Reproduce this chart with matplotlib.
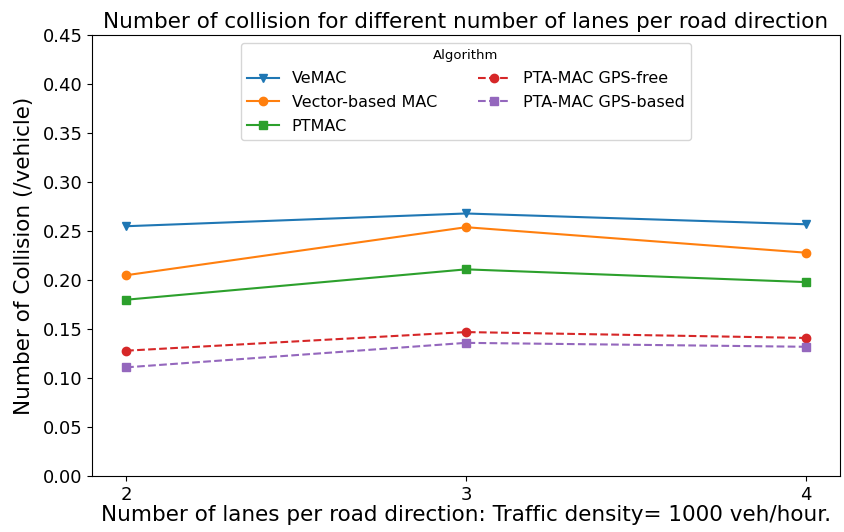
import matplotlib
matplotlib.use("Agg")
import matplotlib.pyplot as plt

lanes = [2, 3, 4]
vemac = [0.255, 0.268, 0.257]
vector_mac = [0.205, 0.254, 0.228]
ptmac = [0.180, 0.211, 0.198]
pta_gps_free = [0.128, 0.147, 0.141]
pta_gps_based = [0.111, 0.136, 0.132]


def main():
    fig, ax = plt.subplots(figsize=(8.45, 5.32), dpi=100)

    ax.plot(lanes, vemac, marker="v", color="tab:blue", label="VeMAC")
    ax.plot(lanes, vector_mac, marker="o", color="tab:orange", label="Vector-based MAC")
    ax.plot(lanes, ptmac, marker="s", color="tab:green", label="PTMAC")
    ax.plot(lanes, pta_gps_free, marker="o", linestyle="--", color="tab:red",
            label="PTA-MAC GPS-free")
    ax.plot(lanes, pta_gps_based, marker="s", linestyle="--", color="tab:purple",
            label="PTA-MAC GPS-based")

    ax.set_ylim(0, 0.45)
    ax.set_xticks(lanes)
    ax.tick_params(labelsize=13)
    ax.set_title("Number of collision for different number of lanes per road direction",
                 fontsize=15.5, pad=5)
    ax.set_xlabel("Number of lanes per road direction: Traffic density= 1000 veh/hour.",
                  fontsize=15.5, labelpad=1)
    ax.set_ylabel("Number of Collision (/vehicle)", fontsize=15.5, labelpad=6)

    ax.legend(title="Algorithm", ncol=2, loc="upper center",
              fontsize=11.5, title_fontsize=9.5, columnspacing=2.6,
              labelspacing=0.55)

    fig.subplots_adjust(left=0.109, right=0.994, top=0.934, bottom=0.105)
    fig.savefig("out.png")
    plt.close(fig)


if __name__ == "__main__":
    main()
